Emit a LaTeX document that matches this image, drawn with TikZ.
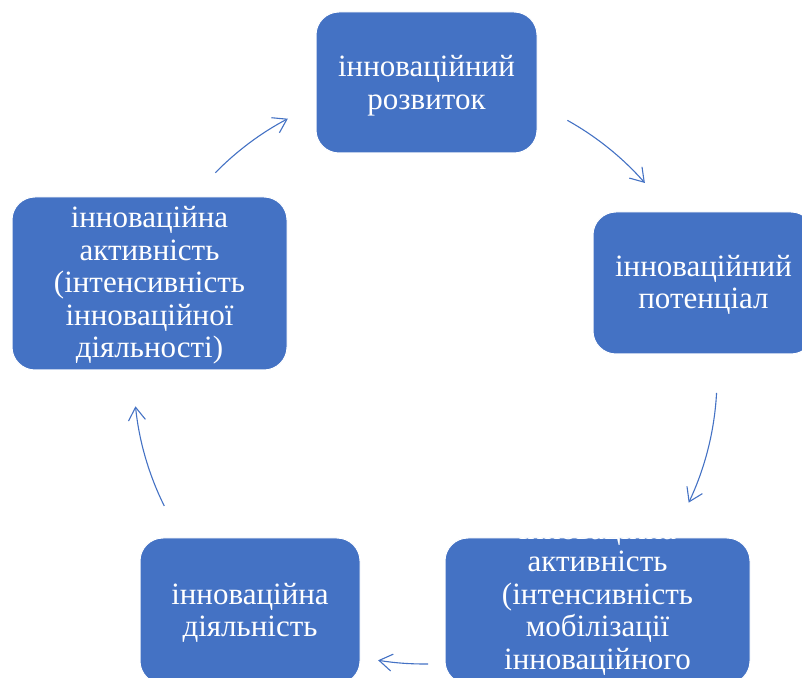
\documentclass[tikz,border=0pt]{standalone}
\usepackage{fontspec}
\setmainfont{Liberation Serif}
\usetikzlibrary{arrows.meta,calc}
\definecolor{boxblue}{HTML}{4472C4}
\tikzset{
  box/.style={rectangle, rounded corners=23pt, fill=boxblue, draw=white, line width=1pt, inner sep=0pt},
  lbl/.style={text=white, align=center, inner sep=0pt, font=\fontsize{31}{32.5}\selectfont},
  arr/.style={draw=boxblue, line width=1.1pt, -{Straight Barb[length=13pt,width=17pt,line width=1.1pt]}}
}
\begin{document}
\begin{tikzpicture}[x=1pt,y=1pt]
\useasboundingbox (0,0) rectangle (802,677);
\node[box, minimum width=221pt, minimum height=141pt] (top) at (426.5,594.5) {};
\node[lbl] (topt) at ([yshift=-3pt]top.center) {інноваційний\\розвиток};
\node[box, minimum width=221pt, minimum height=142pt] (right) at (703.5,394) {};
\node[lbl] (rightt) at ([yshift=-2pt]right.center) {інноваційний\\потенціал};
\node[box, minimum width=305pt, minimum height=146pt] (br) at (597.5,66) {};
\node[lbl] (brt) at ([yshift=-2pt]br.center) {інноваційна\\активність\\(інтенсивність\\мобілізації\\інноваційного\\потенціалу)};
\node[box, minimum width=220pt, minimum height=146pt] (bl) at (250,66) {};
\node[lbl] (blt) at ([yshift=-2pt]bl.center) {інноваційна\\діяльність};
\node[box, minimum width=275pt, minimum height=173pt] (left) at (149.5,393.5) {};
\node[lbl] (leftt) at ([yshift=-2pt]left.center) {інноваційна\\активність\\(інтенсивність\\інноваційної\\діяльності)};
\coordinate (c) at (424,300);
\coordinate (a1) at ($(c)+(135.6:292)$);
\coordinate (a2) at ($(c)+(60.8:294)$);
\coordinate (a3) at ($(c)+(-3.1:293)$);
\coordinate (a4) at ($(c)+(-89.2:287)$);
\coordinate (a5) at ($(c)+(206.4:290)$);
\draw[arr] (a1) arc[start angle=135.6, end angle=117.8, radius=292pt];
\draw[arr] (a2) arc[start angle=60.8, end angle=41.3, radius=294pt];
\draw[arr] (a3) arc[start angle=-3.1, end angle=-25.4, radius=293pt];
\draw[arr] (a4) arc[start angle=-89.2, end angle=-99.2, radius=287pt];
\draw[arr] (a5) arc[start angle=206.4, end angle=185.8, radius=290pt];
\end{tikzpicture}
\end{document}
